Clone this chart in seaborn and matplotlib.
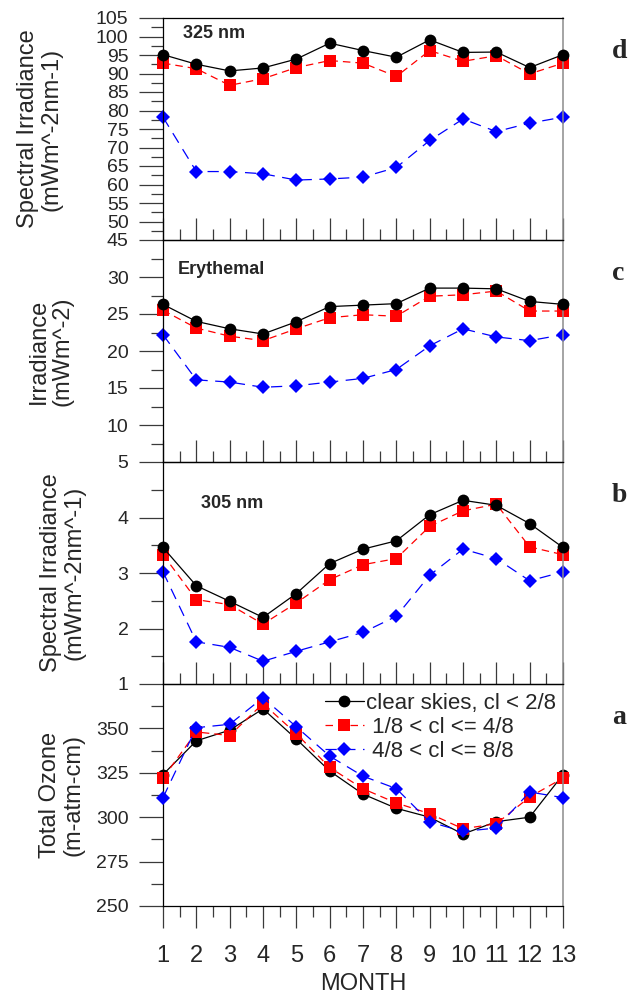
import numpy as np
import matplotlib
matplotlib.use("Agg")
import matplotlib.pyplot as plt
import seaborn as sns
from matplotlib.ticker import FixedLocator, NullFormatter

# ---------------- data ----------------
months = list(range(1, 14))
month_labels = [str(m) for m in months]

series_labels = ["clear skies, cl < 2/8", " 1/8 < cl <= 4/8", " 4/8 < cl <= 8/8"]

# panel d : 325 nm spectral irradiance
irr325_clear = [95.1, 92.5, 90.7, 91.5, 93.9, 98.2, 96.2, 94.4, 99.1, 95.7, 95.8, 91.6, 95.1]
irr325_part = [92.8, 91.3, 86.8, 88.6, 91.6, 93.5, 92.8, 89.2, 96.2, 93.3, 94.8, 89.9, 92.8]
irr325_cloud = [78.2, 63.5, 63.5, 62.9, 61.2, 61.5, 62.0, 64.6, 71.9, 77.7, 74.3, 76.6, 78.2]

# panel c : erythemal irradiance
ery_clear = [26.3, 24.0, 23.0, 22.3, 23.95, 26.0, 26.2, 26.4, 28.5, 28.5, 28.4, 26.7, 26.3]
ery_part = [25.5, 23.1, 22.0, 21.4, 23.0, 24.5, 24.9, 24.7, 27.4, 27.6, 28.1, 25.4, 25.4]
ery_cloud = [22.2, 16.1, 15.8, 15.1, 15.3, 15.8, 16.3, 17.5, 20.7, 23.0, 21.9, 21.4, 22.2]

# panel b : 305 nm spectral irradiance
irr305_clear = [3.46, 2.77, 2.49, 2.20, 2.63, 3.17, 3.43, 3.58, 4.05, 4.31, 4.22, 3.89, 3.46]
irr305_part = [3.33, 2.52, 2.43, 2.08, 2.46, 2.88, 3.15, 3.26, 3.84, 4.12, 4.24, 3.47, 3.33]
irr305_cloud = [3.02, 1.76, 1.66, 1.41, 1.59, 1.76, 1.93, 2.22, 2.96, 3.43, 3.26, 2.86, 3.02]

# panel a : total ozone
ozone_clear = [324.0, 343.0, 349.0, 361.0, 344.0, 326.0, 313.0, 305.0, 300.0, 290.5, 297.5, 300.0, 324.0]
ozone_part = [322.0, 348.0, 346.0, 364.0, 347.0, 328.0, 316.0, 308.0, 302.0, 293.5, 296.3, 311.4, 322.0]
ozone_cloud = [311.0, 350.4, 352.3, 367.3, 350.9, 334.4, 323.1, 316.1, 297.3, 292.0, 293.9, 314.2, 311.0]

panel_letters = ["d", "c", "b", "a"]
panel_titles = ["325 nm", "Erythemal", "305 nm", None]
ylabels = ["Spectral Irradiance\n(mWm^-2nm-1)",
           "Irradiance\n(mWm^-2)",
           "Spectral Irradiance\n(mWm^-2nm^-1)",
           "Total Ozone\n(m-atm-cm)"]
xlabel = "MONTH"

# ---------------- style ----------------
sns.set_style("ticks")
plt.rcParams["font.family"] = ["Liberation Sans", "DejaVu Sans"]
plt.rcParams["axes.linewidth"] = 0.9

W, H = 630, 998
fig = plt.figure(figsize=(W / 100, H / 100), dpi=100)

left_px, right_px = 163, 563
tops_px = [18, 240, 462, 684]
ph = 222

series_style = [
    dict(color="#000000", marker="o", markersize=8.5, linestyle="-"),
    dict(color="#ff0000", marker="s", markersize=9.0, linestyle=(0, (6, 4))),
    dict(color="#0000ff", marker="D", markersize=7.4, linestyle=(0, (9, 6))),
]

panels = [
    dict(data=[irr325_clear, irr325_part, irr325_cloud], ylim=(45, 105),
         major=np.arange(45, 105.1, 5), minor=np.arange(47.5, 105, 5),
         title_xy=(0.05, 0.909), lab_x=-0.2525, z=[3, 2, 1]),
    dict(data=[ery_clear, ery_part, ery_cloud], ylim=(5, 35),
         major=np.arange(5, 30.1, 5), minor=np.arange(7.5, 35, 5),
         title_xy=(0.0375, 0.847), lab_x=-0.225, z=[3, 2, 1]),
    dict(data=[irr305_clear, irr305_part, irr305_cloud], ylim=(1, 5),
         major=np.arange(1, 4.1, 1), minor=np.arange(1.5, 5, 1),
         title_xy=(0.095, 0.793), lab_x=-0.195, z=[3, 2, 1]),
    dict(data=[ozone_clear, ozone_part, ozone_cloud], ylim=(250, 375),
         major=np.arange(250, 350.1, 25), minor=np.arange(262.5, 375, 25),
         title_xy=None, lab_x=-0.1975, z=[1, 2, 3]),
]

tick_col = "#3a3a3a"
axes = []
for i, p in enumerate(panels):
    top = tops_px[i]
    ax = fig.add_axes([left_px / W, 1 - (top + ph) / H, (right_px - left_px) / W, ph / H])
    axes.append(ax)
    for j, (vals, st) in enumerate(zip(p["data"], series_style)):
        sns.lineplot(x=months, y=vals, ax=ax, color=st["color"], marker=st["marker"],
                     markersize=st["markersize"], markeredgewidth=0,
                     linestyle=st["linestyle"], linewidth=0.9, label=series_labels[j],
                     legend=False, zorder=p["z"][j], clip_on=False)
    ax.set_xlim(1, 13)
    ax.set_ylim(*p["ylim"])
    ax.xaxis.set_major_locator(FixedLocator(months))
    ax.xaxis.set_minor_locator(FixedLocator(np.arange(1.5, 13, 1)))
    ax.yaxis.set_major_locator(FixedLocator(p["major"]))
    ax.yaxis.set_minor_locator(FixedLocator(p["minor"]))
    ax.set_yticklabels([("%g" % v) for v in p["major"]])
    ax.yaxis.set_minor_formatter(NullFormatter())
    ax.tick_params(axis="y", which="major", direction="out", length=17.3, width=0.9,
                   color=tick_col, labelsize=14, pad=7.5)
    ax.tick_params(axis="y", which="minor", direction="out", length=8.6, width=0.9,
                   color=tick_col)
    if i < 3:
        ax.tick_params(axis="x", which="major", direction="in", length=16, width=0.9,
                       color=tick_col, labelbottom=False)
        ax.tick_params(axis="x", which="minor", direction="in", length=8, width=0.9,
                       color=tick_col)
    else:
        ax.set_xticklabels(month_labels)
        ax.tick_params(axis="x", which="major", direction="out", length=16, width=0.9,
                       color=tick_col, labelsize=17, pad=12)
        ax.tick_params(axis="x", which="minor", direction="out", length=8, width=0.9,
                       color=tick_col)
        ax.set_xlabel(xlabel, fontsize=17)
        ax.xaxis.set_label_coords(0.5, -0.3)
        ax.xaxis.label.set_va("top")
    ax.set_ylabel(ylabels[i], fontsize=17, linespacing=1.05)
    ax.yaxis.set_label_coords(p["lab_x"], 0.5)
    for s in ["left", "bottom", "top"]:
        ax.spines[s].set_color("black")
        ax.spines[s].set_linewidth(0.9)
    ax.spines["right"].set_color("#8c8c8c")
    ax.spines["right"].set_linewidth(1.1)
    ax.set_facecolor("none")
    if p["title_xy"] is not None:
        ax.text(p["title_xy"][0], p["title_xy"][1], panel_titles[i], transform=ax.transAxes,
                fontsize=13, fontweight="bold", ha="left", va="baseline")
    ax.text(1.1225, 1 - 40 / ph, panel_letters[i], transform=ax.transAxes,
            fontsize=20, fontweight="bold", ha="left", va="baseline",
            family=["Liberation Serif", "DejaVu Serif"])

# legend in bottom panel
axa = axes[3]
handles, labels = axa.get_legend_handles_labels()
leg = axa.legend(handles, labels, loc="upper right", bbox_to_anchor=(1 - 7 / 400, 1 - 9 / ph),
                 frameon=False, fontsize=16, handlelength=1.75, handletextpad=0.1,
                 labelspacing=0.14, borderpad=0.0, borderaxespad=0.0)

fig.savefig("out.png", dpi=100, facecolor="white")
